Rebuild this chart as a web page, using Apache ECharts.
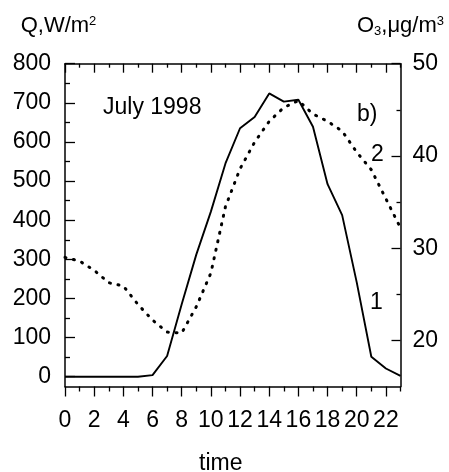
<!DOCTYPE html>
<html>
<head>
<meta charset="utf-8">
<script src="https://cdn.jsdelivr.net/npm/echarts@6/dist/echarts.min.js"></script>
<style>html,body{margin:0;padding:0;background:#fff}#c{width:449px;height:472px}</style>
</head>
<body>
<div id="c"></div>
<script>
// ---- data ----
const hours = [0,1,2,3,4,5,6,7,8,9,10,11,12,13,14,15,16,17,18,19,20,21,22,23];
const radiationQ = [0,0,0,0,0,0,4,53,185,312,422,545,635,664,724,703,708,639,492,413,241,51,21,2];
const ozoneO3 = [29.0,28.6,27.6,26.25,25.9,23.9,22.2,20.9,20.8,23.65,27.3,34.5,38.6,41.5,43.75,45.25,46.0,44.55,43.75,42.7,40.4,38.5,35.35,32.2];
const xMajorTicks = [0,2,4,6,8,10,12,14,16,18,20,22];
const xMinorTicks = [1,3,5,7,9,11,13,15,17,19,21,23];
const qTicks = [0,100,200,300,400,500,600,700,800];
const qMinorTicks = [50,150,250,350,450,550,650,750];
const o3Ticks = [20,30,40,50];
const o3MinorTicks = [25,35,45];

const FONT = "'Liberation Sans', Arial, sans-serif";
const FS = 23;
const black = '#000';
const axisLine = {show:true, onZero:false, lineStyle:{color:black, width:1.5}};
const noLine = {show:false, onZero:false};

function xAx(pos, ticks, len, inside, labels, line) {
  return {
    type:'value', position:pos, min:0, max:23,
    axisLine: line ? axisLine : noLine,
    axisTick:{show:true, inside:inside, length:len, customValues:ticks, lineStyle:{color:black,width:1.3}},
    axisLabel: labels ? {show:true, customValues:ticks, margin:23, color:black, fontSize:FS, fontFamily:FONT} : {show:false},
    splitLine:{show:false}
  };
}
function yAx(pos, min, max, ticks, len, labels, line, margin) {
  return {
    type:'value', position:pos, min:min, max:max,
    axisLine: line ? axisLine : noLine,
    axisTick:{show:true, inside:true, length:len, customValues:ticks, lineStyle:{color:black,width:1.3}},
    axisLabel: labels ? {show:true, customValues:ticks, margin:margin, color:black, fontSize:FS, fontFamily:FONT} : {show:false},
    splitLine:{show:false}
  };
}

const xAxes = [
  xAx('bottom', xMajorTicks, 10, false, true, true),
  xAx('bottom', xMinorTicks, 5, false, false, false),
  xAx('top', xMajorTicks, 9, true, false, true),
  xAx('top', xMinorTicks, 4, true, false, false)
];
xAxes[0].name = 'time';
xAxes[0].nameLocation = 'middle';
xAxes[0].nameGap = 66;
xAxes[0].nameTextStyle = {color:black, fontSize:FS, fontFamily:FONT, padding:[0,24,0,0]};

const yAxes = [
  yAx('left', -25, 800, qTicks, 10, true, true, 14),
  yAx('left', -25, 800, qMinorTicks, 5, false, false, 0),
  yAx('right', 15, 50, o3Ticks, 9, true, true, 12),
  yAx('right', 15, 50, o3MinorTicks, 4, false, false, 0)
];
const supRich = {
  sup:{fontSize:13, fontFamily:FONT, color:black, padding:[0,0,10,0]},
  sub:{fontSize:13, fontFamily:FONT, color:black, padding:[10,0,0,0]}
};
yAxes[0].name = 'Q,W/m{sup|2}';
yAxes[0].nameLocation = 'end';
yAxes[0].nameGap = 26;
yAxes[0].nameTextStyle = {color:black, fontSize:22, fontFamily:FONT, padding:[0,13,0,0], rich:supRich};
yAxes[2].name = 'O{sub|3},\u03bcg/m{sup|3}';
yAxes[2].nameLocation = 'end';
yAxes[2].nameGap = 26;
yAxes[2].nameTextStyle = {color:black, fontSize:22, fontFamily:FONT, padding:[0,0,0,0], rich:supRich};

const chart = echarts.init(document.getElementById('c'), null, {renderer:'canvas'});
chart.setOption({
  animation:false,
  backgroundColor:'#fff',
  grid:{left:65, right:48.5, top:63.7, bottom:85.5, containLabel:false, outerBoundsMode:'none'},
  xAxis: xAxes,
  yAxis: yAxes,
  series:[
    {type:'line', xAxisIndex:0, yAxisIndex:0, showSymbol:false,
     data: hours.map((h,i)=>[h, radiationQ[i]]),
     lineStyle:{color:black, width:1.9}},
    {type:'line', xAxisIndex:0, yAxisIndex:2, showSymbol:false,
     data: hours.map((h,i)=>[h, ozoneO3[i]]),
     lineStyle:{color:black, width:3, type:[1,7.7], cap:'round'}}
  ],
  graphic:[
    {type:'text', left:103, top:96, style:{text:'July 1998', fill:black, font:FS+'px '+FONT}},
    {type:'text', left:357, top:103, style:{text:'b)', fill:black, font:FS+'px '+FONT}},
    {type:'text', left:371, top:143, style:{text:'2', fill:black, font:FS+'px '+FONT}},
    {type:'text', left:370, top:291, style:{text:'1', fill:black, font:FS+'px '+FONT}}
  ]
});
</script>
</body>
</html>
